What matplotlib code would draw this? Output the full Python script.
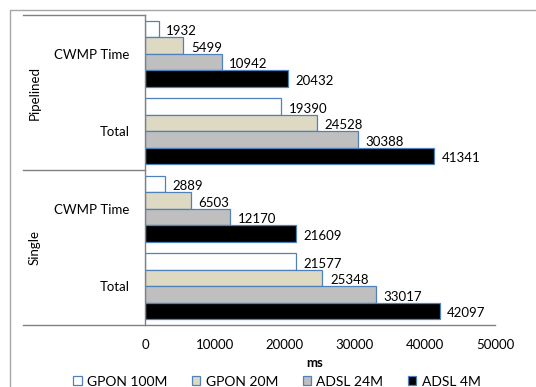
import matplotlib
matplotlib.use("Agg")
import matplotlib.pyplot as plt
from matplotlib.lines import Line2D
from matplotlib.patches import Rectangle, Patch
from matplotlib.transforms import blended_transform_factory

plt.rcParams['font.family'] = ['Lato', 'DejaVu Sans']

categories = ['CWMP Time', 'Total', 'CWMP Time', 'Total']
groups = ['Pipelined', 'Single']
series = ['GPON 100M', 'GPON 20M', 'ADSL 24M', 'ADSL 4M']
gpon100 = [1932, 19390, 2889, 21577]
gpon20 = [5499, 24528, 6503, 25348]
adsl24 = [10942, 30388, 12170, 33017]
adsl4 = [20432, 41341, 21609, 42097]
xticks = [0, 10000, 20000, 30000, 40000, 50000]
xlabel = 'ms'

values = [gpon100, gpon20, adsl24, adsl4]
colors = ['#FFFFFF', '#DDD9C3', '#BFBFBF', '#000000']
edge = '#4F81BD'

W, H = 536, 387
fig = plt.figure(figsize=(W / 100, H / 100), dpi=100)

def fx(px):
    return px / W

def fy(py):
    return 1 - py / H

ax = fig.add_axes([fx(145), fy(325), fx(495) - fx(145), fy(15) - fy(325)])

h = 0.2125
for j, (vals, col) in enumerate(zip(values, colors)):
    ys = [i + (j - 1.5) * h for i in range(len(categories))]
    ax.barh(ys, vals, height=h, color=col, edgecolor=edge, linewidth=0.9)
    for y, v in zip(ys, vals):
        ax.annotate(f'{v}', xy=(v, y), xytext=(5.5, -1.5), textcoords='offset points',
                    va='center', ha='left', fontsize=9.5, color='black')

ax.set_xlim(0, 50000)
ax.set_ylim(len(categories) - 0.5, -0.5)
ax.set_xticks(xticks)
ax.set_xticklabels([str(t) for t in xticks])
ax.set_yticks(range(len(categories)))
ax.set_yticklabels(categories)
ax.tick_params(axis='x', length=0, pad=10, labelsize=9.5)
ax.tick_params(axis='y', length=0, pad=11, labelsize=9.5)
for s in ['top', 'right', 'bottom']:
    ax.spines[s].set_visible(False)
ax.spines['left'].set_color('#808080')
ax.spines['left'].set_linewidth(1)

# group labels
tr = blended_transform_factory(fig.transFigure, ax.transData)
for g, name in enumerate(groups):
    ax.text(fx(35), g * 2 + 0.5, name, transform=tr, rotation=90, ha='center', va='center',
            fontsize=9.5)

# separator lines
line_col = '#808080'
for (x0, x1, y) in [(23, 145, 15), (23, 145, 169.5), (23, 495, 325)]:
    fig.add_artist(Line2D([fx(x0), fx(x1)], [fy(y), fy(y)], color=line_col, lw=1,
                          transform=fig.transFigure))

# outer border
fig.add_artist(Rectangle((fx(10), fy(H + 5)), fx(W + 10), fy(10) - fy(H + 5), fill=False,
                         edgecolor='#A6A6A6', lw=1, transform=fig.transFigure))

fig.text(fx(315), fy(363), xlabel, ha='center', va='center', fontsize=9.5, fontweight='bold')

handles = [Patch(facecolor=c, edgecolor=edge, linewidth=0.9) for c in colors]
fig.legend(handles, series, loc='center', bbox_to_anchor=(fx(277), fy(381.5)), ncol=4,
           frameon=False, fontsize=10, handlelength=0.6, handleheight=0.6,
           handletextpad=0.4, columnspacing=1.75, borderpad=0, borderaxespad=0)

fig.savefig('out.png', dpi=100)
